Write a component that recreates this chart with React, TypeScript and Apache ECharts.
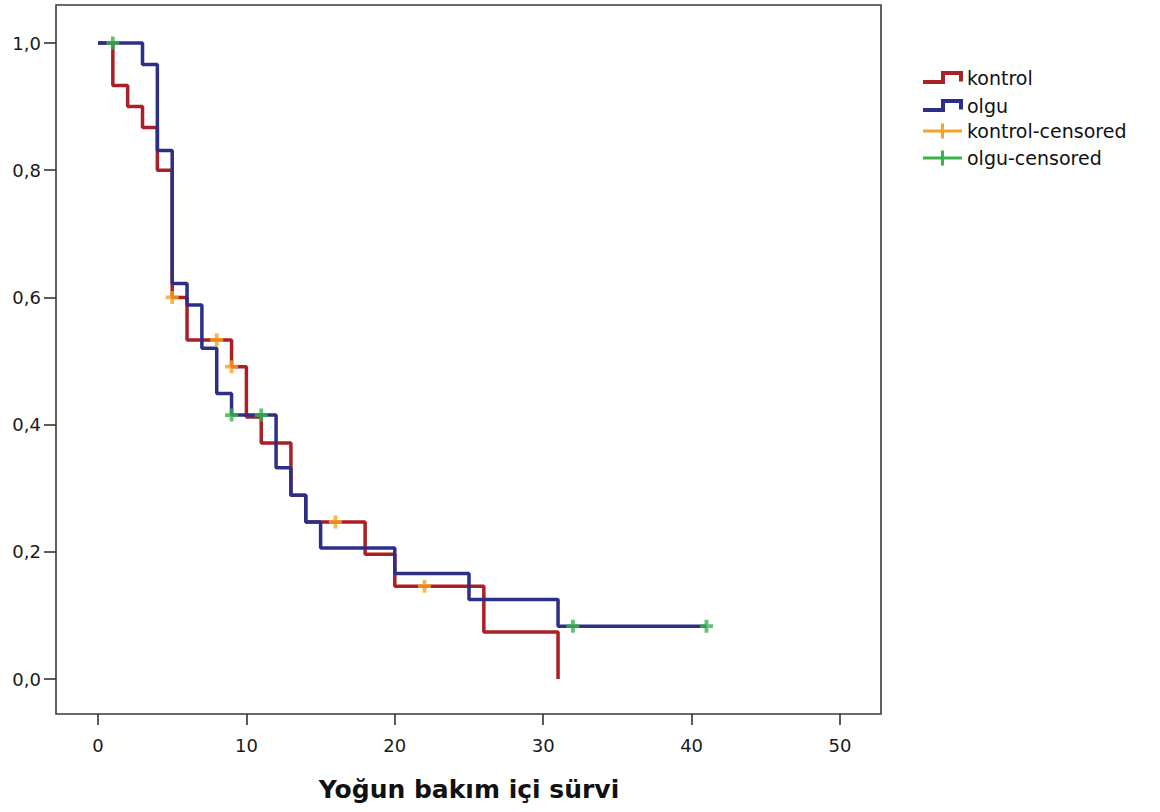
import React, { useEffect, useRef } from "react";
import * as echarts from "echarts";

// Kaplan–Meier step data (time, survival)
const kontrolTimes = [0, 1, 2, 3, 4, 5, 6, 9, 10, 11, 13, 14, 18, 20, 26, 31];
const kontrolSurv = [1.0, 0.933, 0.9, 0.867, 0.8, 0.6, 0.533, 0.491, 0.412, 0.371, 0.289, 0.247, 0.196, 0.146, 0.074, 0.0];
const olguTimes = [0, 3, 4, 5, 6, 7, 8, 9, 12, 13, 14, 15, 20, 25, 31, 41];
const olguSurv = [1.0, 0.966, 0.831, 0.622, 0.588, 0.52, 0.449, 0.415, 0.332, 0.289, 0.247, 0.206, 0.166, 0.125, 0.083, 0.083];
const kontrolCensTimes = [5, 8, 9, 16, 22];
const kontrolCensSurv = [0.6, 0.533, 0.491, 0.247, 0.146];
const olguCensTimes = [1, 9, 11, 32, 41];
const olguCensSurv = [1.0, 0.415, 0.415, 0.083, 0.083];

const legendNames = ["kontrol", "olgu", "kontrol-censored", "olgu-censored"];
const xTitle = "Yoğun bakım içi sürvi";

const RED = "#AC1F27";
const BLUE = "#2C2F87";
const ORANGE = "#F8A323";
const GREEN = "#37B54A";
const FONT = "DejaVu Sans";

const PLUS = "path://M4.25,0H7.75V12H4.25Z M0,4.25H12V7.75H0Z";

const zip = (a: number[], b: number[]) => a.map((v, i) => [v, b[i]]);

export default function App() {
  const ref = useRef<HTMLDivElement>(null);
  useEffect(() => {
    if (!ref.current) return;
    const chart = echarts.init(ref.current, null, { renderer: "svg" });
    const legendRows = [77.5, 105.5, 131, 158];
    const legendGraphics: any[] = [];
    [RED, BLUE].forEach((c, i) => {
      const cy = legendRows[i];
      legendGraphics.push({
        type: "polyline",
        shape: { points: [[923, cy + 4.5], [943, cy + 4.5], [943, cy - 4.5], [961, cy - 4.5], [961, cy + 4]] },
        style: { stroke: c, lineWidth: 4, fill: "none" },
      });
    });
    [ORANGE, GREEN].forEach((c, i) => {
      const cy = legendRows[i + 2];
      legendGraphics.push({
        type: "line",
        shape: { x1: 923, y1: cy, x2: 962, y2: cy },
        style: { stroke: c, lineWidth: 3 },
      });
      legendGraphics.push({
        type: "line",
        shape: { x1: 942.5, y1: cy - 7.5, x2: 942.5, y2: cy + 7.5 },
        style: { stroke: c, lineWidth: 3 },
      });
    });
    legendNames.forEach((n, i) => {
      legendGraphics.push({
        type: "text",
        x: 967,
        y: legendRows[i],
        style: { text: n, font: `19px '${FONT}'`, fill: "#111", verticalAlign: "middle", align: "left" },
      });
    });

    chart.setOption({
      animation: false,
      backgroundColor: "#fff",
      grid: { left: 98, right: 320, top: 43, bottom: 133 },
      xAxis: {
        type: "value",
        min: 0,
        max: 50,
        interval: 10,
        offset: 35,
        axisLine: { show: false, onZero: false },
        axisTick: { show: true, length: 11, lineStyle: { color: "#333", width: 1.6 } },
        splitLine: { show: false },
        axisLabel: { margin: 22, fontFamily: FONT, fontSize: 18, color: "#1a1a1a" },
      },
      yAxis: {
        type: "value",
        min: 0,
        max: 1,
        interval: 0.2,
        offset: 42,
        axisLine: { show: false, onZero: false },
        axisTick: { show: true, length: 12, lineStyle: { color: "#333", width: 1.6 } },
        splitLine: { show: false },
        axisLabel: {
          margin: 15,
          fontFamily: FONT,
          fontSize: 18,
          color: "#1a1a1a",
          formatter: (v: number) => v.toFixed(1).replace(".", ","),
        },
      },
      graphic: [
        {
          type: "rect",
          shape: { x: 56, y: 5, width: 825, height: 709 },
          style: { stroke: "#3a3a3a", lineWidth: 1.6, fill: "none" },
          z: 100,
        },
        {
          type: "text",
          x: 469,
          y: 789,
          style: { text: xTitle, font: `bold 25px '${FONT}'`, fill: "#111", align: "center", verticalAlign: "middle" },
        },
        ...legendGraphics,
      ],
      series: [
        {
          name: "kontrol",
          type: "line",
          step: "end",
          data: zip(kontrolTimes, kontrolSurv),
          showSymbol: false,
          symbol: "none",
          clip: false,
          lineStyle: { color: RED, width: 3.5 },
          z: 2,
        },
        {
          name: "olgu",
          type: "line",
          step: "end",
          data: zip(olguTimes, olguSurv),
          showSymbol: false,
          symbol: "none",
          clip: false,
          lineStyle: { color: BLUE, width: 3.5 },
          z: 3,
        },
        {
          name: "kontrol-censored",
          type: "scatter",
          data: zip(kontrolCensTimes, kontrolCensSurv),
          symbol: PLUS,
          symbolSize: 13,
          itemStyle: { color: ORANGE },
          clip: false,
          z: 4,
        },
        {
          name: "olgu-censored",
          type: "scatter",
          data: zip(olguCensTimes, olguCensSurv),
          symbol: PLUS,
          symbolSize: 13,
          itemStyle: { color: GREEN },
          clip: false,
          z: 5,
        },
      ],
    });
    return () => chart.dispose();
  }, []);
  return <div ref={ref} style={{ position: "absolute", left: 0, top: 0, width: 1160, height: 812 }} />;
}
